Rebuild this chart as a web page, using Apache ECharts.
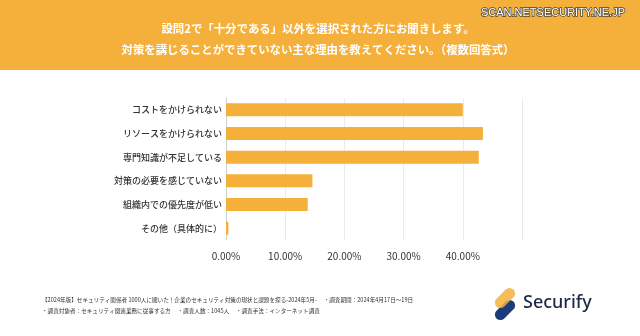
<!DOCTYPE html>
<html><head><meta charset="utf-8">
<script src="https://cdn.jsdelivr.net/npm/echarts@6/dist/echarts.min.js"></script>
<style>html,body{margin:0;padding:0;background:#fff}#c{width:640px;height:336px}</style>
</head><body><div id="c"></div>
<script>
const categories = ['コストをかけられない','リソースをかけられない','専門知識が不足している','対策の必要を感じていない','組織内での優先度が低い','その他（具体的に）'];
const values = [40.0, 43.4, 42.7, 14.6, 13.8, 0.4];
const titleLines = ['設問2で「十分である」以外を選択された方にお聞きします。','対策を講じることができていない主な理由を教えてください。（複数回答式）'];
const footLines = ['【2024年版】セキュリティ関係者 1000人に聞いた！企業のセキュリティ対策の現状と課題を探る-2024年5月-　 ・調査期間：2024年4月17日～19日','・調査対象者：セキュリティ関連業務に従事する方　 ・調査人数：1045人　 ・調査手法：インターネット調査'];
const ORANGE = '#F5B03B';
const FONT = '"Noto Sans CJK JP", "Noto Sans", sans-serif';
const chart = echarts.init(document.getElementById('c'), null, {renderer:'canvas'});
chart.setOption({
  backgroundColor:'#fff',
  animation:false,
  grid:{left:226, right:118, top:98, bottom:96, containLabel:false},
  xAxis:{type:'value', min:0, max:50, interval:10,
    axisLine:{show:false}, axisTick:{show:false},
    splitLine:{show:true, lineStyle:{color:'#ebebeb', width:1}},
    axisLabel:{showMaxLabel:false, margin:11, fontSize:10, color:'#333', fontFamily:FONT,
      formatter:v=>v.toFixed(2)+'%'}},
  yAxis:{type:'category', data:categories, inverse:true,
    axisLine:{show:true, lineStyle:{color:'#cfcfcf'}}, axisTick:{show:false},
    axisLabel:{fontSize:9, color:'#333', fontWeight:500, margin:4, fontFamily:FONT}},
  series:[{type:'bar', data:values, barWidth:13, itemStyle:{color:ORANGE}}],
  graphic:[
    {type:'rect', left:0, top:0, z:-1, shape:{width:640, height:70}, style:{fill:ORANGE}},
    {type:'text', x:318, y:28.5, style:{text:titleLines[0], fill:'#fff', fontSize:11.4, fontWeight:'bold', fontFamily:FONT, align:'center', verticalAlign:'middle'}},
    {type:'text', x:318, y:50, style:{text:titleLines[1], fill:'#fff', fontSize:11.4, fontWeight:'bold', fontFamily:FONT, align:'center', verticalAlign:'middle'}},
    {type:'text', x:625, y:13, style:{text:'SCAN.NETSECURITY.NE.JP', fill:'#fff', fontSize:11, fontFamily:'"Liberation Sans Narrow","Liberation Sans",sans-serif', align:'right', verticalAlign:'middle', stroke:'#444', lineWidth:1.5}},
    {type:'text', x:42, y:300, style:{text:footLines[0], fill:'#333', fontSize:5.6, fontFamily:FONT, verticalAlign:'middle'}},
    {type:'text', x:42, y:310.5, style:{text:footLines[1], fill:'#333', fontSize:5.6, fontFamily:FONT, verticalAlign:'middle'}},
    {type:'rect', x:505, y:310, rotation:Math.PI/4, shape:{x:-12, y:-5.5, width:24, height:11, r:5.5}, style:{fill:'#1B3C7A'}},
    {type:'rect', x:505, y:298, rotation:Math.PI/4, shape:{x:-12, y:-5.5, width:24, height:11, r:5.5}, style:{fill:'#F5B03B', opacity:0.85}},
    {type:'text', x:523, y:303, style:{text:'Securify', fill:'#1F2747', fontSize:18, fontWeight:500, fontFamily:'"Noto Sans", sans-serif', verticalAlign:'middle'}}
  ]
});
</script></body></html>
